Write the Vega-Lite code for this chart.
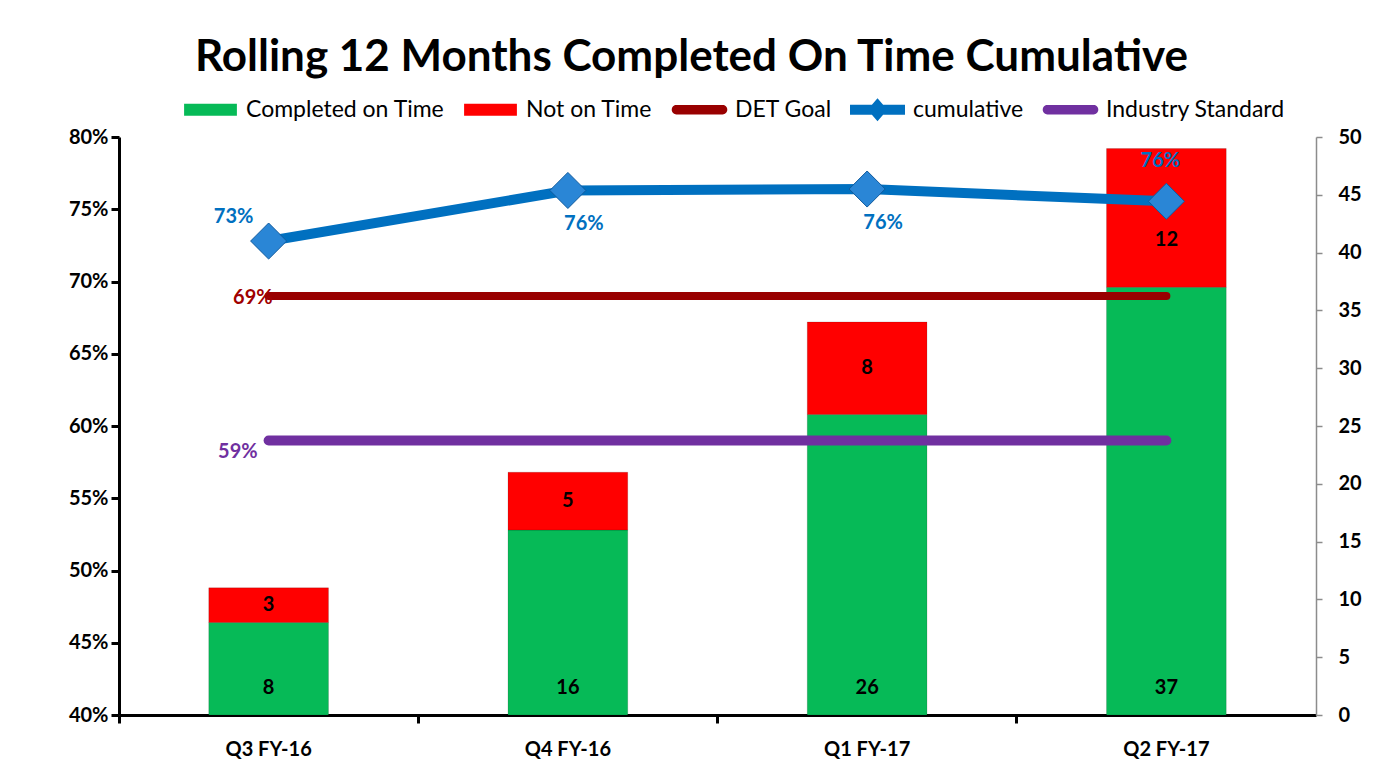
{
  "$schema": "https://vega.github.io/schema/vega-lite/v6.json",
  "width": 1197,
  "height": 578,
  "autosize": {"type": "none"},
  "padding": {"left": 119, "top": 137, "right": 77, "bottom": 51},
  "background": "white",
  "title": {"text": "Rolling 12 Months Completed On Time Cumulative", "font": "Lato", "fontSize": 44, "fontWeight": "bold", "color": "black", "anchor": "middle", "dx": -26, "offset": 2},
  "config": {
    "view": {"stroke": null},
    "font": "Lato",
    "axis": {"grid": false, "labelFont": "Lato", "labelFontSize": 20, "labelFontWeight": "bold", "labelColor": "black"},
    "axisLeft": {"domainColor": "black", "domainWidth": 3, "tickColor": "black", "tickWidth": 3, "tickSize": 8, "labelPadding": 3},
    "axisRight": {"domainColor": "#8c8c8c", "domainWidth": 1.5, "tickColor": "#8c8c8c", "tickWidth": 1.5, "tickSize": 6, "labelPadding": 16},
    "axisBottom": {"domainColor": "black", "domainWidth": 3, "tickColor": "black", "tickWidth": 3, "tickSize": 8, "labelPadding": 16}
  },
  "datasets": {
    "bars": [
      {"quarter": "Q3 FY-16", "status": "Completed on Time", "count": 8},
      {"quarter": "Q3 FY-16", "status": "Not on Time", "count": 3},
      {"quarter": "Q4 FY-16", "status": "Completed on Time", "count": 16},
      {"quarter": "Q4 FY-16", "status": "Not on Time", "count": 5},
      {"quarter": "Q1 FY-17", "status": "Completed on Time", "count": 26},
      {"quarter": "Q1 FY-17", "status": "Not on Time", "count": 8},
      {"quarter": "Q2 FY-17", "status": "Completed on Time", "count": 37},
      {"quarter": "Q2 FY-17", "status": "Not on Time", "count": 12}
    ],
    "lines": [
      {"quarter": "Q3 FY-16", "cumulative": 0.728, "goal": 0.69, "industry": 0.59},
      {"quarter": "Q4 FY-16", "cumulative": 0.763, "goal": 0.69, "industry": 0.59},
      {"quarter": "Q1 FY-17", "cumulative": 0.764, "goal": 0.69, "industry": 0.59},
      {"quarter": "Q2 FY-17", "cumulative": 0.7555, "goal": 0.69, "industry": 0.59}
    ]
  },
  "encoding": {
    "x": {"field": "quarter", "type": "nominal", "sort": ["Q3 FY-16", "Q4 FY-16", "Q1 FY-17", "Q2 FY-17"], "scale": {"paddingInner": 0.6, "paddingOuter": 0.3}, "axis": {"title": null, "labelAngle": 0, "bandPosition": -0.75}}
  },
  "layer": [
    {
      "data": {"name": "bars"},
      "layer": [
        {
          "mark": {"type": "bar", "stroke": "#00000026", "strokeWidth": 1},
          "encoding": {
            "y": {"field": "count", "type": "quantitative", "stack": "zero", "scale": {"domain": [0, 50], "nice": false}, "axis": {"orient": "right", "title": null, "values": [0, 5, 10, 15, 20, 25, 30, 35, 40, 45, 50]}},
            "order": {"field": "status", "sort": "ascending"},
            "color": {
              "field": "status", "type": "nominal",
              "scale": {"domain": ["Completed on Time", "Not on Time", "DET Goal", "cumulative", "Industry Standard"], "range": ["#06BA57", "#FF0000", "#990000", "#0070C0", "#7030A0"]},
              "legend": {
                "orient": "none", "legendX": 64, "legendY": -55, "direction": "horizontal", "columns": 5, "title": null,
                "labelFont": "Lato", "labelFontSize": 23, "labelColor": "black", "labelOffset": 8, "labelLimit": 400, "columnPadding": 18,
                "symbolSize": 3025, "symbolStrokeWidth": 0, "symbolOpacity": 1,
                "symbolType": {"expr": "datum.value === 'cumulative' ? 'M-1,-0.18H1V0.18H-1Z M-0.36,0L0,-0.42L0.36,0L0,0.42Z' : (datum.value === 'DET Goal' || datum.value === 'Industry Standard') ? 'M-0.84,-0.17H0.84A0.17,0.17 0 0 1 0.84,0.17H-0.84A0.17,0.17 0 0 1 -0.84,-0.17Z' : 'M-0.96,-0.22H0.96V0.22H-0.96Z'"}
              }
            }
          }
        },
        {
          "transform": [{"filter": "datum.status === 'Completed on Time'"}],
          "mark": {"type": "text", "dy": -27, "font": "Lato", "fontSize": 20, "fontWeight": "bold", "color": "black"},
          "encoding": {
            "y": {"datum": 0, "type": "quantitative", "scale": {"domain": [0, 50], "nice": false}, "axis": {"orient": "right", "title": null, "values": [0, 5, 10, 15, 20, 25, 30, 35, 40, 45, 50]}},
            "text": {"field": "count", "type": "quantitative"}
          }
        },
        {
          "transform": [
            {"stack": "count", "groupby": ["quarter"], "sort": [{"field": "status", "order": "ascending"}], "as": ["c0", "c1"]},
            {"filter": "datum.status === 'Not on Time' && datum.quarter !== 'Q2 FY-17'"},
            {"calculate": "(datum.c0 + datum.c1) / 2", "as": "mid"}
          ],
          "mark": {"type": "text", "font": "Lato", "fontSize": 20, "fontWeight": "bold", "color": "black"},
          "encoding": {
            "y": {"field": "mid", "type": "quantitative", "scale": {"domain": [0, 50], "nice": false}, "axis": {"orient": "right", "title": null, "values": [0, 5, 10, 15, 20, 25, 30, 35, 40, 45, 50]}},
            "text": {"field": "count", "type": "quantitative"}
          }
        },
        {
          "transform": [
            {"stack": "count", "groupby": ["quarter"], "sort": [{"field": "status", "order": "ascending"}], "as": ["c0", "c1"]},
            {"filter": "datum.status === 'Not on Time' && datum.quarter === 'Q2 FY-17'"},
            {"calculate": "(datum.c0 + datum.c1) / 2", "as": "mid"}
          ],
          "mark": {"type": "text", "dy": 22, "font": "Lato", "fontSize": 20, "fontWeight": "bold", "color": "black"},
          "encoding": {
            "y": {"field": "mid", "type": "quantitative", "scale": {"domain": [0, 50], "nice": false}, "axis": {"orient": "right", "title": null, "values": [0, 5, 10, 15, 20, 25, 30, 35, 40, 45, 50]}},
            "text": {"field": "count", "type": "quantitative"}
          }
        }
      ]
    },
    {
      "data": {"name": "lines"},
      "layer": [
        {
          "mark": {"type": "line", "strokeWidth": 8, "strokeCap": "round"},
          "encoding": {
            "y": {"field": "goal", "type": "quantitative", "scale": {"domain": [0.4, 0.8], "nice": false, "zero": false}, "axis": {"orient": "left", "title": null, "format": ".0%", "values": [0.4, 0.45, 0.5, 0.55, 0.6, 0.65, 0.7, 0.75, 0.8]}},
            "color": {"datum": "DET Goal", "type": "nominal", "scale": {"domain": ["Completed on Time", "Not on Time", "DET Goal", "cumulative", "Industry Standard"], "range": ["#06BA57", "#FF0000", "#990000", "#0070C0", "#7030A0"]}}
          }
        },
        {
          "mark": {"type": "line", "strokeWidth": 10, "strokeCap": "round"},
          "encoding": {
            "y": {"field": "industry", "type": "quantitative", "scale": {"domain": [0.4, 0.8], "nice": false, "zero": false}, "axis": {"orient": "left", "title": null, "format": ".0%", "values": [0.4, 0.45, 0.5, 0.55, 0.6, 0.65, 0.7, 0.75, 0.8]}},
            "color": {"datum": "Industry Standard", "type": "nominal", "scale": {"domain": ["Completed on Time", "Not on Time", "DET Goal", "cumulative", "Industry Standard"], "range": ["#06BA57", "#FF0000", "#990000", "#0070C0", "#7030A0"]}}
          }
        },
        {
          "mark": {"type": "line", "strokeWidth": 10, "strokeJoin": "round"},
          "encoding": {
            "y": {"field": "cumulative", "type": "quantitative", "scale": {"domain": [0.4, 0.8], "nice": false, "zero": false}, "axis": {"orient": "left", "title": null, "format": ".0%", "values": [0.4, 0.45, 0.5, 0.55, 0.6, 0.65, 0.7, 0.75, 0.8]}},
            "color": {"datum": "cumulative", "type": "nominal", "scale": {"domain": ["Completed on Time", "Not on Time", "DET Goal", "cumulative", "Industry Standard"], "range": ["#06BA57", "#FF0000", "#990000", "#0070C0", "#7030A0"]}}
          }
        },
        {
          "mark": {"type": "point", "shape": "diamond", "filled": true, "size": 1300, "fill": "#2a86d6", "stroke": "#0f5a9e", "strokeWidth": 1, "opacity": 1},
          "encoding": {
            "y": {"field": "cumulative", "type": "quantitative", "scale": {"domain": [0.4, 0.8], "nice": false, "zero": false}, "axis": {"orient": "left", "title": null, "format": ".0%", "values": [0.4, 0.45, 0.5, 0.55, 0.6, 0.65, 0.7, 0.75, 0.8]}}
          }
        },
        {
          "transform": [{"filter": "datum.quarter === 'Q3 FY-16'"}],
          "mark": {"type": "text", "dx": -35, "dy": -24, "font": "Lato", "fontSize": 20, "fontWeight": "bold", "color": "#0070C0"},
          "encoding": {
            "y": {"field": "cumulative", "type": "quantitative", "scale": {"domain": [0.4, 0.8], "nice": false, "zero": false}, "axis": {"orient": "left", "title": null, "format": ".0%", "values": [0.4, 0.45, 0.5, 0.55, 0.6, 0.65, 0.7, 0.75, 0.8]}},
            "text": {"field": "cumulative", "type": "quantitative", "format": ".0%"}
          }
        },
        {
          "transform": [{"filter": "datum.quarter === 'Q4 FY-16' || datum.quarter === 'Q1 FY-17'"}],
          "mark": {"type": "text", "dx": 16, "dy": 34, "font": "Lato", "fontSize": 20, "fontWeight": "bold", "color": "#0070C0"},
          "encoding": {
            "y": {"field": "cumulative", "type": "quantitative", "scale": {"domain": [0.4, 0.8], "nice": false, "zero": false}, "axis": {"orient": "left", "title": null, "format": ".0%", "values": [0.4, 0.45, 0.5, 0.55, 0.6, 0.65, 0.7, 0.75, 0.8]}},
            "text": {"field": "cumulative", "type": "quantitative", "format": ".0%"}
          }
        },
        {
          "transform": [{"filter": "datum.quarter === 'Q2 FY-17'"}],
          "mark": {"type": "text", "dx": -6, "dy": -40, "font": "Lato", "fontSize": 20, "fontWeight": "bold", "color": "#0070C0"},
          "encoding": {
            "y": {"field": "cumulative", "type": "quantitative", "scale": {"domain": [0.4, 0.8], "nice": false, "zero": false}, "axis": {"orient": "left", "title": null, "format": ".0%", "values": [0.4, 0.45, 0.5, 0.55, 0.6, 0.65, 0.7, 0.75, 0.8]}},
            "text": {"field": "cumulative", "type": "quantitative", "format": ".0%"}
          }
        },
        {
          "transform": [{"filter": "datum.quarter === 'Q3 FY-16'"}],
          "mark": {"type": "text", "align": "right", "dx": 4, "dy": 2, "font": "Lato", "fontSize": 20, "fontWeight": "bold", "color": "#a00000"},
          "encoding": {
            "y": {"field": "goal", "type": "quantitative", "scale": {"domain": [0.4, 0.8], "nice": false, "zero": false}, "axis": {"orient": "left", "title": null, "format": ".0%", "values": [0.4, 0.45, 0.5, 0.55, 0.6, 0.65, 0.7, 0.75, 0.8]}},
            "text": {"field": "goal", "type": "quantitative", "format": ".0%"}
          }
        },
        {
          "transform": [{"filter": "datum.quarter === 'Q3 FY-16'"}],
          "mark": {"type": "text", "align": "right", "dx": -11, "dy": 12, "font": "Lato", "fontSize": 20, "fontWeight": "bold", "color": "#7030A0"},
          "encoding": {
            "y": {"field": "industry", "type": "quantitative", "scale": {"domain": [0.4, 0.8], "nice": false, "zero": false}, "axis": {"orient": "left", "title": null, "format": ".0%", "values": [0.4, 0.45, 0.5, 0.55, 0.6, 0.65, 0.7, 0.75, 0.8]}},
            "text": {"field": "industry", "type": "quantitative", "format": ".0%"}
          }
        }
      ]
    }
  ],
  "resolve": {"scale": {"y": "independent"}}
}
